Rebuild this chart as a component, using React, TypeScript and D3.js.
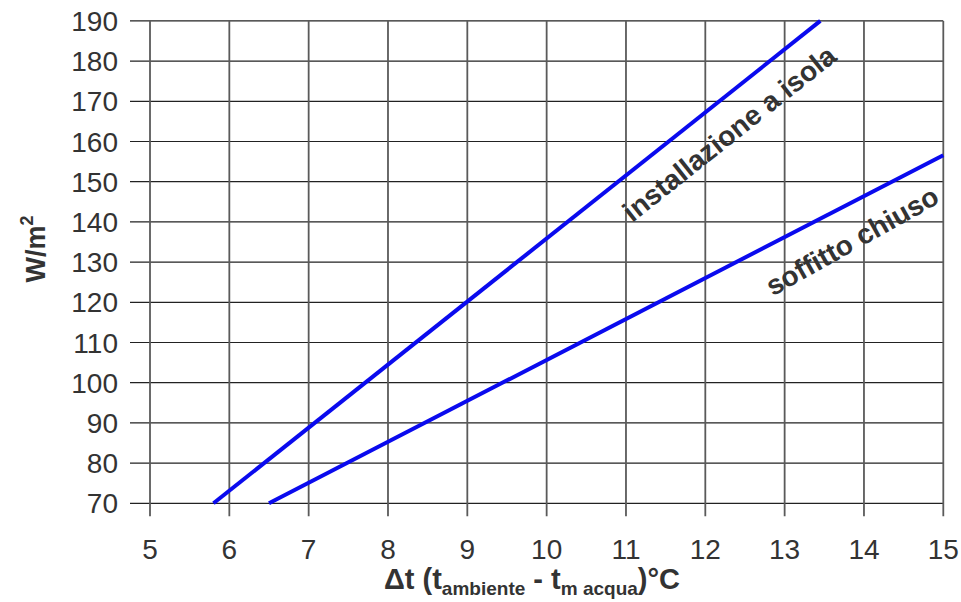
import React, { useEffect, useRef } from 'react';
import * as d3 from 'd3';

// axis ticks
const xTicks = [5, 6, 7, 8, 9, 10, 11, 12, 13, 14, 15];
const yTicks = [70, 80, 90, 100, 110, 120, 130, 140, 150, 160, 170, 180, 190];

// series (delta t, W/m2)
const isolaX = [5.8, 13.45];
const isolaY = [70, 190];
const chiusoX = [6.5, 15];
const chiusoY = [70, 156.6];

const seriesNames = ['installazione a isola', 'soffitto chiuso'];
// where the labels sit (data coords)
const labelX = [12.3, 13.85];
const labelY = [162, 135.3];

const W = 961;
const H = 602;

const App = () => {
  const svgRef = useRef<SVGSVGElement>(null);

  useEffect(() => {
    const svg = d3.select(svgRef.current);
    svg.selectAll('*').remove();

    const x = d3.scaleLinear().domain([5, 15]).range([150, 943.3]);
    const y = d3.scaleLinear().domain([70, 190]).range([503.3, 20.9]);
    const font = 'Liberation Sans, Arial, sans-serif';
    const txt = '#333';

    // horizontal grid (with tick stubs on the left)
    svg.append('g')
      .selectAll('line')
      .data(yTicks)
      .enter().append('line')
      .attr('x1', x(5) - 20)
      .attr('x2', x(15))
      .attr('y1', d => y(d))
      .attr('y2', d => y(d))
      .attr('stroke', '#222')
      .attr('stroke-width', 1.2);

    // vertical grid (with tick stubs below)
    svg.append('g')
      .selectAll('line')
      .data(xTicks)
      .enter().append('line')
      .attr('x1', d => x(d))
      .attr('x2', d => x(d))
      .attr('y1', y(190))
      .attr('y2', y(70) + 13)
      .attr('stroke', '#5a5a5a')
      .attr('stroke-width', 1.8);

    // tick labels
    svg.append('g')
      .selectAll('text')
      .data(yTicks)
      .enter().append('text')
      .attr('x', 118)
      .attr('y', d => y(d))
      .attr('dy', '0.36em')
      .attr('text-anchor', 'end')
      .style('font-family', font)
      .style('font-size', '28px')
      .attr('fill', txt)
      .text(d => d);

    svg.append('g')
      .selectAll('text')
      .data(xTicks)
      .enter().append('text')
      .attr('x', d => x(d))
      .attr('y', 559)
      .attr('text-anchor', 'middle')
      .style('font-family', font)
      .style('font-size', '28px')
      .attr('fill', txt)
      .text(d => d);

    // lines
    const line = d3.line<[number, number]>().x(d => x(d[0])).y(d => y(d[1]));
    const series = [
      isolaX.map((v, i) => [v, isolaY[i]] as [number, number]),
      chiusoX.map((v, i) => [v, chiusoY[i]] as [number, number]),
    ];
    svg.append('g')
      .selectAll('path')
      .data(series)
      .enter().append('path')
      .attr('d', d => line(d))
      .attr('fill', 'none')
      .attr('stroke', '#0a0aee')
      .attr('stroke-width', 4);

    // series labels, rotated along the line slope
    series.forEach((s, i) => {
      const dx = x(s[1][0]) - x(s[0][0]);
      const dy = y(s[1][1]) - y(s[0][1]);
      const ang = (Math.atan2(dy, dx) * 180) / Math.PI;
      const px = x(labelX[i]);
      const py = y(labelY[i]);
      svg.append('text')
        .attr('transform', `translate(${px},${py}) rotate(${ang + (i === 1 ? -2 : 0)})`)
        .attr('text-anchor', 'middle')
        .attr('dy', '0.35em')
        .style('font-family', font)
        .style('font-size', '28px')
        .style('font-weight', 'bold')
        .attr('fill', txt)
        .text(seriesNames[i]);
    });

    // y title
    const yt = svg.append('text')
      .attr('transform', `translate(45,249) rotate(-90)`)
      .attr('text-anchor', 'middle')
      .style('font-family', font)
      .style('font-size', '27px')
      .style('font-weight', 'bold')
      .attr('fill', txt);
    yt.append('tspan').text('W/m');
    yt.append('tspan').attr('dy', -12).style('font-size', '18px').text('2');

    // x title
    const xt = svg.append('text')
      .attr('x', 532)
      .attr('y', 589)
      .attr('text-anchor', 'middle')
      .style('font-family', font)
      .style('font-size', '29px')
      .style('font-weight', 'bold')
      .attr('fill', txt);
    xt.append('tspan').text('Δt (t');
    xt.append('tspan').attr('dy', 6).style('font-size', '19px').text('ambiente');
    xt.append('tspan').attr('dy', -6).text(' - t');
    xt.append('tspan').attr('dy', 6).style('font-size', '19px').text('m acqua');
    xt.append('tspan').attr('dy', -6).text(')°C');
  }, []);

  return (
    <svg
      ref={svgRef}
      width={W}
      height={H}
      style={{ position: 'absolute', left: 0, top: 0, background: '#fff' }}
    />
  );
};

export default App;
